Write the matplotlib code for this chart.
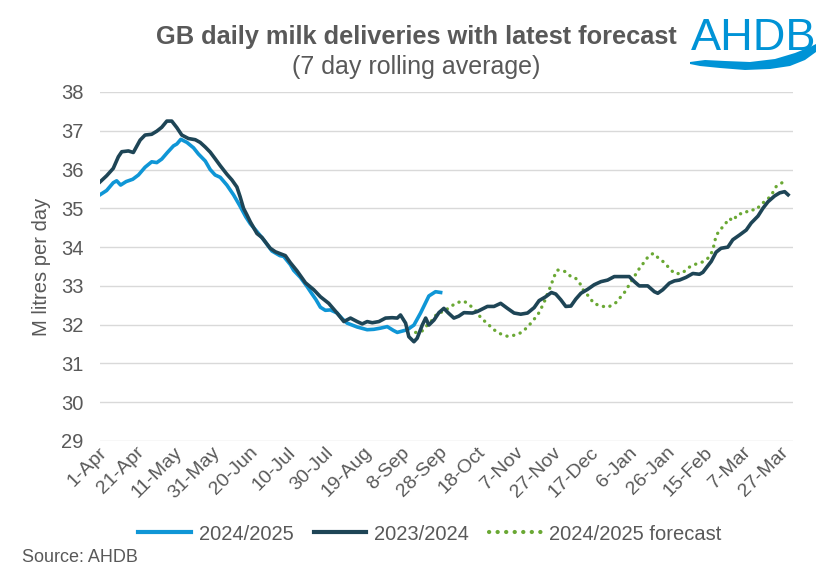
import matplotlib
matplotlib.use("Agg")
import matplotlib.pyplot as plt
import matplotlib.transforms as mtransforms
import numpy as np

plt.rcParams['font.family'] = ['Liberation Sans', 'DejaVu Sans']

# ---------------- data ----------------
tick_days = [0, 20, 40, 60, 80, 100, 120, 140, 160, 180, 200, 220, 240, 260, 280, 300, 320, 340, 360]
tick_labels = ["1-Apr", "21-Apr", "11-May", "31-May", "20-Jun", "10-Jul", "30-Jul", "19-Aug", "8-Sep",
               "28-Sep", "18-Oct", "7-Nov", "27-Nov", "17-Dec", "6-Jan", "26-Jan", "15-Feb", "7-Mar", "27-Mar"]

days_2425 = [0, 3.5, 7, 8.8, 10.9, 13.8, 17.3, 20.3, 23.8, 27.3, 30, 32.6, 35.6, 38.8, 40.6, 42.7, 45.9,
             49.4, 52, 55.6, 58.2, 60.8, 63.5, 67, 70.5, 73.7, 77, 79.4, 82.9, 86.4, 90.8, 95, 97, 100.5,
             102.3, 105.8, 109.4, 112, 114, 116.4, 119, 121.7, 125.2, 128, 130.5, 135.8, 141.1, 144.6,
             148.1, 151.7, 155, 157, 162.3, 165.8, 169.3, 173.7, 177.2, 179.9]
vals_2425 = [35.35, 35.46, 35.66, 35.71, 35.60, 35.69, 35.75, 35.86, 36.06, 36.20, 36.18, 36.27, 36.44,
             36.61, 36.66, 36.78, 36.70, 36.56, 36.40, 36.22, 36.00, 35.86, 35.80, 35.60, 35.35, 35.08,
             34.78, 34.60, 34.40, 34.19, 33.90, 33.78, 33.76, 33.55, 33.40, 33.22, 32.98, 32.79, 32.65,
             32.45, 32.37, 32.38, 32.30, 32.15, 32.04, 31.94, 31.87, 31.88, 31.91, 31.95, 31.85, 31.80,
             31.87, 31.99, 32.30, 32.74, 32.85, 32.83]

days_2324 = [0, 3.5, 7, 9.7, 11.5, 15, 17.6, 21.2, 23.8, 27.3, 30, 32.6, 35.3, 37.9, 40.6, 43.2, 46.7,
             50.3, 52.9, 55.6, 58.2, 60.8, 63.5, 67, 69.7, 72.3, 74, 75.8, 77.6, 79.4, 82.9, 85.5, 89.9,
             92.6, 95.2, 97.9, 100.5, 104, 108.5, 112.9, 116.4, 120.8, 125.2, 128.8, 132.3, 135.8, 138.5,
             141.1, 143.8, 147.3, 150.8, 154.3, 157, 158.7, 161.4, 163.1, 165.8, 167.5, 170.2, 172, 173.7,
             176.4, 179, 181.6, 184, 186.9, 189.5, 192.2, 196.7, 199.3, 204.6, 208.1, 211.6, 215.2, 218.7,
             222.2, 225.8, 229.3, 231.9, 235.4, 238.4, 240.7, 243.4, 246, 248.7, 251.3, 254, 257.5, 261,
             264.6, 268.1, 271.6, 275.1, 279.5, 282.2, 284.8, 289.3, 292.8, 294.6, 297.2, 300.7, 303.4,
             306, 309.5, 313.1, 316.6, 318.4, 320.1, 322.8, 325.4, 328, 331.6, 334.2, 337.7, 341.3, 343.9,
             347.5, 350.1, 352.8, 356.3, 359, 361.6, 363.4]
vals_2324 = [35.68, 35.84, 36.03, 36.33, 36.46, 36.48, 36.44, 36.76, 36.89, 36.91, 36.99, 37.09, 37.25,
             37.25, 37.08, 36.89, 36.80, 36.77, 36.70, 36.58, 36.45, 36.28, 36.10, 35.88, 35.73, 35.55,
             35.30, 35.00, 34.83, 34.65, 34.35, 34.25, 33.97, 33.88, 33.83, 33.78, 33.60, 33.39, 33.08,
             32.90, 32.72, 32.55, 32.30, 32.08, 32.17, 32.08, 32.02, 32.08, 32.05, 32.08, 32.17, 32.18,
             32.17, 32.25, 32.04, 31.69, 31.56, 31.65, 31.99, 32.17, 31.99, 32.12, 32.31, 32.42, 32.30,
             32.17, 32.22, 32.31, 32.30, 32.34, 32.47, 32.47, 32.55, 32.42, 32.30, 32.27, 32.30, 32.44,
             32.62, 32.72, 32.83, 32.79, 32.64, 32.47, 32.48, 32.66, 32.81, 32.91, 33.03, 33.11, 33.15,
             33.24, 33.24, 33.24, 33.11, 33.00, 33.00, 32.85, 32.81, 32.90, 33.07, 33.13, 33.15, 33.22,
             33.32, 33.30, 33.35, 33.46, 33.63, 33.87, 33.97, 34.00, 34.19, 34.31, 34.44, 34.62, 34.80,
             35.00, 35.17, 35.32, 35.40, 35.43, 35.35]

days_fc = [166.7, 170, 172.5, 175.5, 178.1, 181.6, 185.2, 188.7, 192.2, 195.8, 198.9, 201.2, 204.6, 207.7,
           211.2, 215.2, 219.1, 222.7, 226, 228.8, 231.5, 233.4, 235.2, 236.7, 238.4, 239.6, 241.6, 245.7,
           248.7, 251, 253.6, 255.7, 258.4, 260.7, 264.6, 268.4, 272.5, 275.1, 277.8, 279.9, 282.2, 284.3,
           286.9, 289.6, 292.2, 295.1, 298.4, 301, 303.8, 307.6, 310.7, 314.6, 318.4, 321.5, 323.6, 324.5,
           325.5, 328, 330.7, 332.4, 334.2, 337.2, 340, 343, 346.6, 349.2, 352.4, 354.9, 357.1, 360.2]
vals_fc = [31.80, 31.83, 31.97, 32.12, 32.29, 32.34, 32.47, 32.57, 32.61, 32.48, 32.34, 32.17, 32.03, 31.88,
           31.77, 31.70, 31.73, 31.80, 31.95, 32.11, 32.28, 32.46, 32.65, 32.84, 33.04, 33.22, 33.41, 33.37,
           33.24, 33.21, 33.05, 32.85, 32.72, 32.55, 32.48, 32.45, 32.57, 32.72, 32.88, 33.07, 33.24, 33.41,
           33.58, 33.76, 33.84, 33.71, 33.59, 33.43, 33.31, 33.33, 33.47, 33.56, 33.62, 33.73, 33.91, 34.11,
           34.31, 34.47, 34.63, 34.74, 34.68, 34.86, 34.86, 34.96, 34.96, 35.11, 35.22, 35.37, 35.56, 35.66]

y_ticks = [29, 30, 31, 32, 33, 34, 35, 36, 37, 38]

# ---------------- styling ----------------
GREY = '#595959'
C_2425 = '#0F96D6'
C_2324 = '#1E4556'
C_FC = '#6AA834'

W, H = 837, 575
fig = plt.figure(figsize=(W / 100, H / 100), dpi=100)
ax = fig.add_axes([100 / W, 1 - 441 / H, 693 / W, 349 / H])

ax.plot(days_2425, vals_2425, color=C_2425, lw=2.6, solid_joinstyle='round', label='2024/2025', zorder=3)
ax.plot(days_2324, vals_2324, color=C_2324, lw=2.6, solid_joinstyle='round', label='2023/2024', zorder=4)
ax.plot(days_fc, vals_fc, color=C_FC, lw=2.4, linestyle=(0, (0.05, 2.0)), dash_capstyle='round',
        label='2024/2025 forecast', zorder=2)

ax.set_xlim(0, 366)
ax.set_ylim(29, 38)
ax.set_yticks(y_ticks)
ax.set_yticklabels([str(v) for v in y_ticks])
ax.set_xticks(tick_days)
ax.set_xticklabels(tick_labels, rotation=45, ha='right', va='top', rotation_mode='anchor')
ax.grid(axis='y', color='#D9D9D9', lw=1.0)
ax.set_axisbelow(True)
for s in ax.spines.values():
    s.set_visible(False)
ax.tick_params(axis='both', length=0, colors=GREY)
ax.tick_params(axis='y', pad=12, labelsize=14.5)
ax.tick_params(axis='x', pad=2, labelsize=14)
offset = mtransforms.ScaledTranslation(-1.5 / 72, 0, fig.dpi_scale_trans)
for lab in ax.get_xticklabels():
    lab.set_transform(lab.get_transform() + offset)

ax.set_ylabel('M litres per day', color=GREY, fontsize=14.5, labelpad=7)

fig.text(416 / W, 1 - 37 / H, 'GB daily milk deliveries with latest forecast', ha='center', va='center',
         fontsize=18.3, fontweight='bold', color=GREY)
fig.text(416 / W, 1 - 67 / H, '(7 day rolling average)', ha='center', va='center', fontsize=18, color=GREY)

leg = fig.legend(loc='center', bbox_to_anchor=(430 / W, 1 - 534 / H), ncol=3, frameon=False,
                 fontsize=14.5, handlelength=2.6, handletextpad=0.4, columnspacing=1.0)
for t in leg.get_texts():
    t.set_color(GREY)
for h in leg.get_lines():
    h.set_linewidth(3.0)

fig.text(22 / W, 1 - 558 / H, 'Source: AHDB', ha='left', va='center', fontsize=13, color=GREY)

# ---------------- logo ----------------
lax = fig.add_axes([0, 0, 1, 1], zorder=5)
lax.set_xlim(0, W)
lax.set_ylim(H, 0)
lax.axis('off')
lax.patch.set_alpha(0)
LOGO = '#0093D6'
lax.text(691, 50, 'AHDB', ha='left', va='baseline', fontsize=32.5, color=LOGO)
up_x = [690, 705, 725, 750, 775, 795, 810, 816]
up_y = [62, 60, 61, 62, 59, 53, 47, 44]
lo_x = [816, 805, 790, 770, 745, 720, 700, 690]
lo_y = [52, 60, 66, 69, 70, 68, 66, 64]
lax.fill(up_x + lo_x, up_y + lo_y, color=LOGO, lw=0)

fig.savefig('out.png', dpi=100)
